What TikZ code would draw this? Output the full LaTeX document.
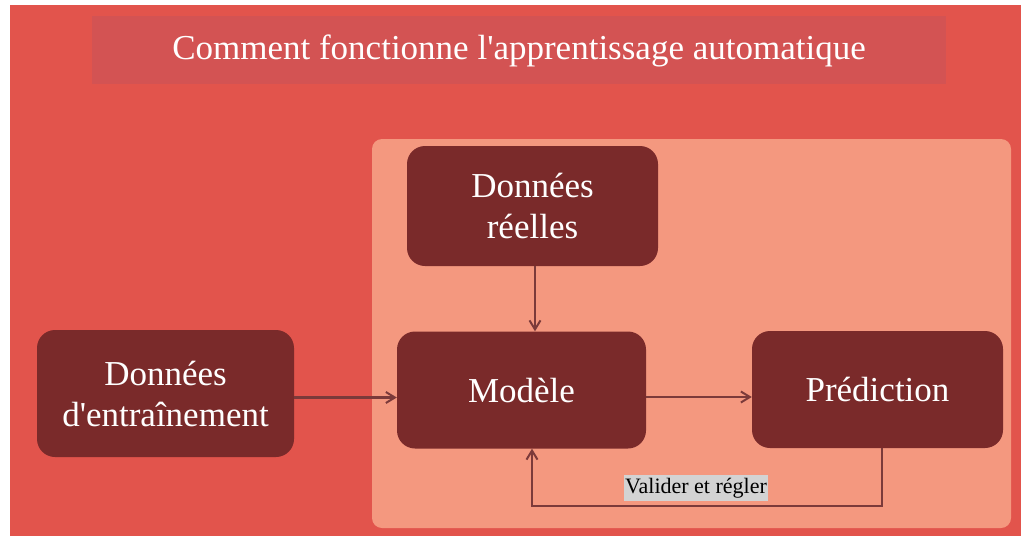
\documentclass[tikz,border=0pt]{standalone}
\usepackage{fontspec}
\setmainfont{Liberation Serif}
\usetikzlibrary{arrows.meta}

\definecolor{bgred}{HTML}{E2544C}
\definecolor{titlebar}{HTML}{D35353}
\definecolor{panel}{HTML}{F4987F}
\definecolor{boxfill}{HTML}{7A2A2A}
\definecolor{linkcol}{HTML}{7B3A3A}
\definecolor{tagfill}{HTML}{D3D3D3}

\tikzset{
  stagebox/.style={rectangle, rounded corners=18pt, fill=boxfill, text=white,
    align=center, inner sep=0pt,
    font=\fontsize{35}{41}\selectfont},
  link/.style={draw=linkcol, line width=2.2pt,
    -{Straight Barb[length=9pt,width=11pt,line width=2pt]}},
  tag/.style={fill=tagfill, text=black, inner xsep=1pt, inner ysep=3pt,
    font=\fontsize{22}{25}\selectfont}
}

\begin{document}
\begin{tikzpicture}[x=1pt, y=-1pt]
  \useasboundingbox (0,0) rectangle (1021,536);
  % page background and title band
  \fill[white] (0,0) rectangle (1021,536);
  \fill[bgred] (10,5) rectangle (1021,536);
  \fill[titlebar] (92,16) rectangle (946,84);
  \node[text=white, font=\fontsize{35}{40}\selectfont] (title) at (519,51)
    {Comment fonctionne l\textquotesingle apprentissage automatique};

  % light panel holding the model loop
  \fill[panel, rounded corners=10pt] (372,139) rectangle (1011,528);

  % stages
  \node[stagebox, minimum width=251pt, minimum height=120pt] (reelles) at (532.5,206)
    {Données\\réelles};
  \node[stagebox, minimum width=249pt, minimum height=117pt] (modele) at (521.5,390)
    {Modèle};
  \node[stagebox, minimum width=251pt, minimum height=117pt] (pred) at (877.5,389.5)
    {Prédiction};
  \node[stagebox, minimum width=257pt, minimum height=127pt] (train) at (165.5,393.5)
    {Données\\d\textquotesingle entraînement};

  % connectors
  \coordinate (loop) at (0,506);
  \draw[link] ([yshift=-4pt]train.east) -- ([yshift=-4pt]train.east -| modele.west);
  \draw[link] ([yshift=-7pt]modele.east) -- ([yshift=-7pt]modele.east -| pred.west);
  \draw[link] ([xshift=2.5pt]reelles.south) -- ([xshift=2.5pt]reelles.south |- modele.north);
  \draw[link] ([xshift=4.5pt]pred.south) |- ([xshift=10.5pt]modele.south |- loop)
    -- ([xshift=10.5pt]modele.south);
  \node[tag] (valider) at (696,488) {Valider et régler};
\end{tikzpicture}
\end{document}
